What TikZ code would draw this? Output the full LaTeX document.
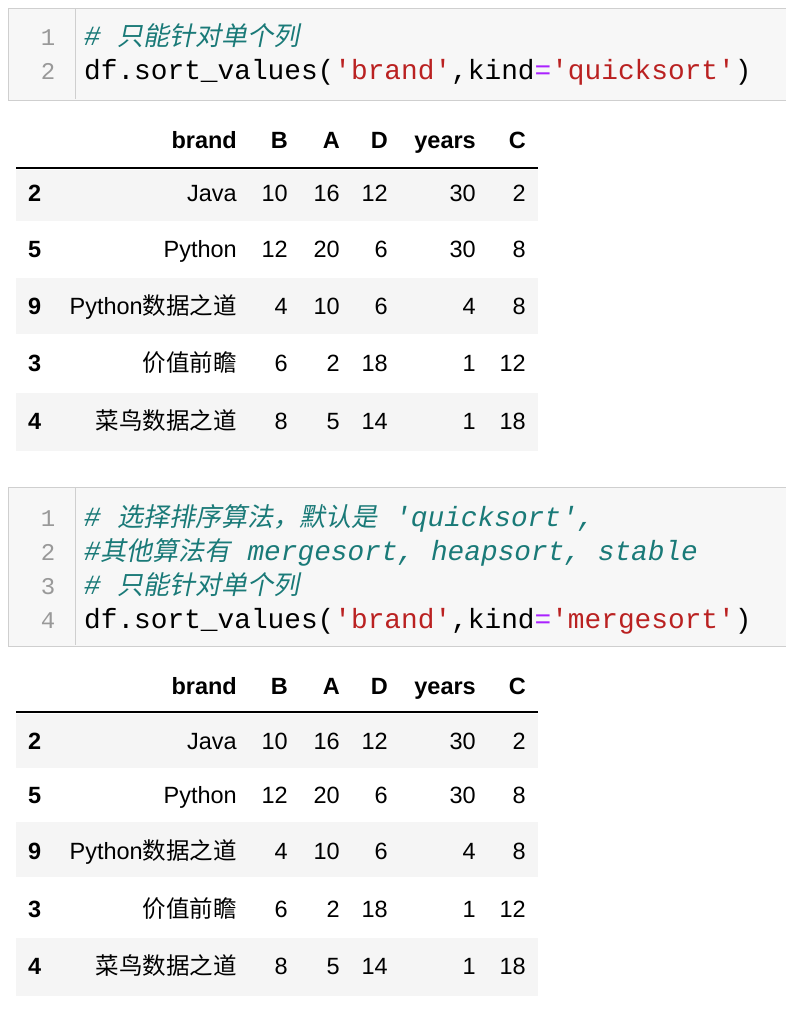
\documentclass[tikz,border=0pt]{standalone}
\usepackage{fontspec}
\setmainfont{Liberation Sans}
\setmonofont{Liberation Mono}
\newfontfamily\cjk{Noto Sans CJK SC}
\newfontfamily\cjki[FakeSlant=0.2]{Noto Sans CJK SC}
\definecolor{cellbg}{HTML}{F7F7F7}
\definecolor{cellbd}{HTML}{CFCFCF}
\definecolor{cmt}{HTML}{1A7A78}
\definecolor{strc}{HTML}{BA2121}
\definecolor{opc}{HTML}{AA22FF}
\definecolor{lnum}{HTML}{999999}
\definecolor{stripe}{HTML}{F5F5F5}
\tikzset{
 code/.style={anchor=base west,inner sep=0,font=\fontsize{27.8}{30}\ttfamily},
 lno/.style={anchor=base,inner sep=0,text=lnum,font=\fontsize{24}{28}\ttfamily},
 cell/.style={anchor=base east,inner sep=0,font=\fontsize{23.5}{26}\selectfont},
 hdr/.style={cell,font=\fontsize{23.5}{26}\bfseries},
 idx/.style={anchor=base west,inner sep=0,font=\fontsize{23.5}{26}\bfseries},
}
\newcommand{\cm}[1]{\textcolor{cmt}{\itshape #1}}
\newcommand{\ck}[1]{{\cjki\fontsize{26}{30}\selectfont #1}}
\newcommand{\trow}[8]{%
 \node[idx] at (28,-#1) {#2};
 \node[cell] at (237,-#1) {#3};
 \node[cell] at (288,-#1) {#4};
 \node[cell] at (340,-#1) {#5};
 \node[cell] at (388,-#1) {#6};
 \node[cell] at (476,-#1) {#7};
 \node[cell] at (526,-#1) {#8};}
\newcommand{\tabl}[2]{%
 \node[hdr] at (237,-#1) {brand};
 \node[hdr] at (288,-#1) {B};
 \node[hdr] at (340,-#1) {A};
 \node[hdr] at (388,-#1) {D};
 \node[hdr] at (476,-#1) {years};
 \node[hdr] at (526,-#1) {C};
 \draw[line width=1.2pt] (16,-#2) -- (538,-#2);
}
\newcommand{\brandcjk}[1]{{\cjk\fontsize{23.5}{26}\selectfont #1}}
\begin{document}
\begin{tikzpicture}[x=1pt,y=1pt]
\useasboundingbox (0,0) rectangle (786,-1016);
% ---- cell 1
\node[draw=cellbd,fill=cellbg,line width=1.2pt,minimum width=778,minimum height=92,anchor=north west,inner sep=0] (c1) at (8,-8) {};
\draw[cellbd,line width=1pt] (75,-9) -- (75,-99);
\node[lno] (c1l1) at (48,-46) {1};
\node[lno] (c1l2) at (48,-80) {2};
\node[code] (c1t1) at (84,-46) {\cm{\# \ck{只能针对单个列}}};
\node[code] (c1t2) at (84,-80) {df.sort\_values(\textcolor{strc}{'brand'},kind\textcolor{opc}{=}\textcolor{strc}{'quicksort'})};
% ---- table 1
\fill[stripe] (16,-170) rectangle (538,-221);
\fill[stripe] (16,-278) rectangle (538,-334);
\fill[stripe] (16,-393) rectangle (538,-451);
\tabl{149}{168}
\trow{202}{2}{Java}{10}{16}{12}{30}{2}
\trow{257}{5}{Python}{12}{20}{6}{30}{8}
\trow{314}{9}{Python\brandcjk{数据之道}}{4}{10}{6}{4}{8}
\trow{371}{3}{\brandcjk{价值前瞻}}{6}{2}{18}{1}{12}
\trow{429}{4}{\brandcjk{菜鸟数据之道}}{8}{5}{14}{1}{18}
% ---- cell 2
\node[draw=cellbd,fill=cellbg,line width=1.2pt,minimum width=778,minimum height=159,anchor=north west,inner sep=0] (c2) at (8,-487) {};
\draw[cellbd,line width=1pt] (75,-488) -- (75,-645);
\node[lno] (c2l1) at (48,-526) {1};
\node[lno] (c2l2) at (48,-560) {2};
\node[lno] (c2l3) at (48,-594) {3};
\node[lno] (c2l4) at (48,-628) {4};
\node[code] (c2t1) at (84,-526) {\cm{\# \ck{选择排序算法，默认是} 'quicksort',}};
\node[code] (c2t2) at (84,-560) {\cm{\#\ck{其他算法有} mergesort, heapsort, stable}};
\node[code] (c2t3) at (84,-594) {\cm{\# \ck{只能针对单个列}}};
\node[code] (c2t4) at (84,-628) {df.sort\_values(\textcolor{strc}{'brand'},kind\textcolor{opc}{=}\textcolor{strc}{'mergesort'})};
% ---- table 2
\fill[stripe] (16,-714) rectangle (538,-768);
\fill[stripe] (16,-822) rectangle (538,-877);
\fill[stripe] (16,-938) rectangle (538,-996);
\tabl{694}{712}
\trow{749}{2}{Java}{10}{16}{12}{30}{2}
\trow{803}{5}{Python}{12}{20}{6}{30}{8}
\trow{859}{9}{Python\brandcjk{数据之道}}{4}{10}{6}{4}{8}
\trow{917}{3}{\brandcjk{价值前瞻}}{6}{2}{18}{1}{12}
\trow{974}{4}{\brandcjk{菜鸟数据之道}}{8}{5}{14}{1}{18}
\end{tikzpicture}
\end{document}
